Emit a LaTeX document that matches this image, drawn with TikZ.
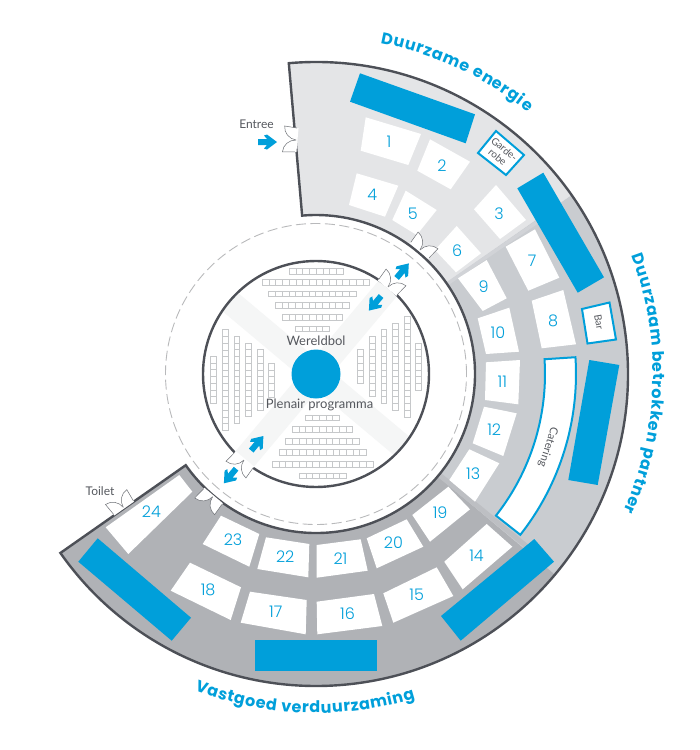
\documentclass[tikz,border=0pt]{standalone}
\usepackage{fontspec}
\usepackage{xcolor}
\setmainfont{Lato}
\newfontfamily\numfont{Poppins Light}
\newfontfamily\headfont{Poppins}
\usetikzlibrary{calc,decorations.text}

\definecolor{expoblue}{HTML}{009FDA}
\definecolor{wallgray}{HTML}{4D5057}
\definecolor{doorgray}{HTML}{6D7075}
\definecolor{lightsec}{HTML}{E4E5E7}
\definecolor{midsec}{HTML}{C9CCD0}
\definecolor{darksec}{HTML}{B0B2B6}
\definecolor{aislegray}{HTML}{F5F6F6}
\definecolor{seatgray}{HTML}{C6C8CA}
\definecolor{textgray}{HTML}{55585E}

\tikzset{
    doubledoor/.pic={
        \draw[white, line width=3pt] (0pt,-12pt) -- (0pt,12pt);
        \draw[fill=white, draw=doorgray, line width=0.5pt] (0pt,12pt) -- (12.5pt,13pt) .. controls (12.5pt,6pt) and (7pt,0.5pt) .. (0pt,0pt);
        \draw[fill=white, draw=doorgray, line width=0.5pt] (0pt,-12pt) -- (12.5pt,-13pt) .. controls (12.5pt,-6pt) and (7pt,-0.5pt) .. (0pt,0pt);
    },
    flowarrow/.pic={
        \fill[expoblue] (-9.5pt,3pt) -- (-0.5pt,3pt) -- (-3.5pt,6.5pt) -- (-0.5pt,7.5pt) -- (9.5pt,0pt)
            -- (-0.5pt,-7.5pt) -- (-3.5pt,-6.5pt) -- (-0.5pt,-3pt) -- (-9.5pt,-3pt) -- cycle;
    }
}

\begin{document}
\begin{tikzpicture}[x=1pt, y=-1pt,
    wall/.style={draw=wallgray, line width=2.4pt},
    stand/.style={fill=expoblue},
    roomfill/.style={fill=white},
    roomnum/.style={text=expoblue, font=\numfont\fontsize{16}{16}\selectfont},
    graylabel/.style={text=textgray, font=\fontsize{13}{13}\selectfont},
    smalllabel/.style={text=textgray, font=\fontsize{10}{10.5}\selectfont, align=center},
    bluebox/.style={draw=expoblue, line width=2pt, fill=white},
    seat/.style={draw=seatgray, line width=0.6pt}]
    \useasboundingbox (0,0) rectangle (700,750);
    \coordinate (hub) at (316,374);

    % Sections of the hall
    \begin{scope}[shift={(hub)}]
        \foreach \ai/\aj/\col in {35/95/lightsec, -40/35/midsec, -145/-40/darksec} {
            \fill[\col] (\ai:159pt) -- (\ai:312pt) arc[start angle=\ai, end angle=\aj, radius=312pt]
                -- (\aj:159pt) arc[start angle=\aj, end angle=\ai, radius=159pt] -- cycle;
        }
        \draw[color=midsec!70!lightsec, line width=3.5pt] (34.5:159pt) -- (34.5:270pt);
        \draw[color=midsec!50!darksec, line width=5pt] (-39.3:159pt) -- (-39.3:290pt);
        \draw[wall, line join=miter] (95:159pt) -- (95:312pt) arc[start angle=95, end angle=-145, radius=312pt]
            -- (-145:159pt) arc[start angle=-145, end angle=95, radius=159pt] -- cycle;
        \draw[draw=seatgray!80!gray, line width=0.9pt, dash pattern=on 10pt off 4.5pt] (0,0) circle[radius=150.5pt];
    \end{scope}

    % Exhibitor stands
    \foreach \ax/\ay/\bx/\by/\cx/\cy/\ex/\ey in {
        360/73.3/475/114.3/465.7/143.3/350/101.7,
        543.3/172.7/604/277.3/577.7/292.7/517.3/188.3,
        589.3/360/619.3/365/597.7/485/568.3/480,
        534.3/539/554/561.7/460.7/640.7/441/616,
        255/640/377.3/640/377.3/671/255/671,
        97.7/538.3/191/617.7/171.7/640.7/78.3/561.7} {
        \fill[stand] (\ax,\ay) -- (\bx,\by) -- (\cx,\cy) -- (\ex,\ey) -- cycle;
    }

    % Numbered rooms
    \foreach \n/\ax/\ay/\bx/\by/\cx/\cy/\ex/\ey in {
        1/365.7/117.3/421/134/408.3/165/360.7/150.7,
        2/430/139.3/470/161.7/450.7/189.3/417.3/170.7,
        3/496/185/526/220/500/239/474/209.3,
        4/356.7/173.3/398.3/185.7/385/216.7/349/205,
        5/405.7/190.7/436.7/210/416.7/235/392.3/220,
        6/456.7/226/481/253.3/456/272.3/435/250,
        7/535/229.3/559.3/277.7/528.3/290.7/505.7/246.7,
        8/563.3/290/576/344.3/541.7/348.3/531.7/300.7,
        9/486.7/260/506.7/298.3/482.7/311/458/278.3,
        10/509.3/307.7/519/351.7/486/354/477.7/318.3,
        11/520/360/518.3/404.3/485/400/486/362.3,
        12/516.7/413.3/503.3/456/472.7/443.3/484/406.7,
        13/499.3/463.3/475/501.7/449.3/480/469.3/449.3,
        14/486.7/524/512.3/546.7/462.7/589.3/444.3/561.7,
        15/436.7/567.3/453.3/596/393.3/622.7/383.3/593.3,
        16/374/594/382.3/626/317.3/634.3/316.7/601.7,
        17/250/591.7/306.7/600/305.7/634.3/240.7/622.7,
        18/190/562.7/241/587.3/230.7/620/170.7/590.7,
        19/448.3/486.7/470/509.3/430/541.7/412.3/515,
        20/406.7/519.3/423.3/546.7/376.7/568.3/366.7/538.3,
        21/360.7/539.3/367.7/570.7/316.7/577.7/316.7/545,
        22/266/537.3/309.3/544/308.3/577.3/257.3/569,
        23/221/515.7/259.3/534/249.3/566.7/202.7/544,
        24/179.3/475/192.3/491.7/128.3/554/105.7/527.3} {
        \fill[roomfill] (\ax,\ay) -- (\bx,\by) -- (\cx,\cy) -- (\ex,\ey) -- cycle;
        \node[roomnum] (room\n) at ($.25*(\ax,\ay)+.25*(\bx,\by)+.25*(\cx,\cy)+.25*(\ex,\ey)$) {\n};
    }

    % Boxes with a function
    \draw[bluebox, line join=miter] (496,131) -- (524,155) -- (506,175) -- (478,153) -- cycle;
    \node[smalllabel, rotate=-40] (garderobe) at (501,153) {Garde-\\robe};
    \draw[bluebox, line join=miter] (609.5,302.5) -- (616,339.5) -- (587.5,343.5) -- (582,309) -- cycle;
    \node[smalllabel, rotate=-80] (bar) at (599,322) {Bar};
    \begin{scope}[shift={(hub)}]
        \draw[bluebox, line join=miter] (3.7:229pt) -- (3.7:260pt) arc[start angle=3.7, end angle=-38.2, radius=260pt]
            -- (-38.2:229pt) arc[start angle=-38.2, end angle=3.7, radius=229pt] -- cycle;
    \end{scope}
    \node[smalllabel, rotate=-108, font=\fontsize{11}{11}\selectfont] (catering) at (548,447) {Catering};

    % Plenary room
    \begin{scope}[shift={(hub)}]
        \fill[white] (0,0) circle[radius=113pt];
        \begin{scope}
            \clip (0,0) circle[radius=113pt];
            \draw[aislegray, line width=24pt] (50:125pt) -- (230:125pt);
            \draw[aislegray, line width=24pt] (140:125pt) -- (-40:125pt);
        \end{scope}
        \draw[wall] (0,0) circle[radius=113pt];
    \end{scope}

    % Seats, rows and columns
    \foreach \sx/\sy/\sn in {289.3/268.3/8, 262.3/279.3/16, 268.7/291/13, 275.3/302.7/11, 282.3/314.3/9, 295.7/326/5,
        305.7/415/5, 292.3/426.7/9, 285.7/438.3/11, 279.3/449.7/13, 272.3/461.3/15, 299.3/473/7} {
        \foreach \k in {1,...,\sn} {
            \draw[seat] ({\sx+(\k-1)*6.7},\sy) rectangle ++(6.7,5.7);
        }
    }
    \foreach \sx/\sy/\sn in {210.7/356.3/7, 222.3/329.7/15, 234/336.3/13, 245.3/343/11, 257.3/349.7/9, 268.7/363.3/5,
        357.7/349.7/5, 369.3/336.3/9, 381/329.7/11, 392.7/323/13, 404.3/316.3/15, 415.7/343/7} {
        \foreach \k in {1,...,\sn} {
            \draw[seat] (\sx,{\sy+(\k-1)*6.7}) rectangle ++(5.7,6.7);
        }
    }

    \fill[expoblue] (hub) circle[radius=24.5pt];
    \node[graylabel] (wereldbol) at (316,341) {Wereldbol};
    \node[graylabel] (plenair) at (319.5,405) {Plenair programma};

    % Doors and walking directions
    \foreach \px/\py/\rot in {296/140/175, 420/250/50, 388/287/50, 244/460/230, 212.7/496.7/230, 123.3/507.3/125} {
        \pic[rotate=\rot] at (\px,\py) {doubledoor};
    }
    \foreach \px/\py/\rot in {267.5/142/0, 402.7/270.7/50, 375/303.3/230, 257.3/443.3/50, 230/476/230} {
        \pic[rotate=\rot] at (\px,\py) {flowarrow};
    }
    \node[graylabel, font=\fontsize{12}{12}\selectfont] (entree) at (256.5,124) {Entree};
    \node[graylabel, font=\fontsize{12}{12}\selectfont] (toilet) at (100,491.5) {Toilet};

    % Section names along the rim
    \begin{scope}[shift={(hub)}]
        \path[decorate, decoration={text along path, text align=fit to path,
            text={|\headfont\fontsize{16}{16}\selectfont\bfseries\color{expoblue}|Duurzame energie}}]
            (79:337pt) arc[start angle=79, end angle=51, radius=337pt];
        \path[decorate, decoration={text along path, text align=fit to path,
            text={|\headfont\fontsize{16}{16}\selectfont\bfseries\color{expoblue}|Duurzaam betrokken partner}}]
            (20.5:337pt) arc[start angle=20.5, end angle=-24, radius=337pt];
        \path[decorate, decoration={text along path, text align=fit to path,
            text={|\headfont\fontsize{16}{16}\selectfont\bfseries\color{expoblue}|Vastgoed verduurzaming}}]
            (249:339pt) arc[start angle=249, end angle=287, radius=339pt];
    \end{scope}
\end{tikzpicture}
\end{document}
